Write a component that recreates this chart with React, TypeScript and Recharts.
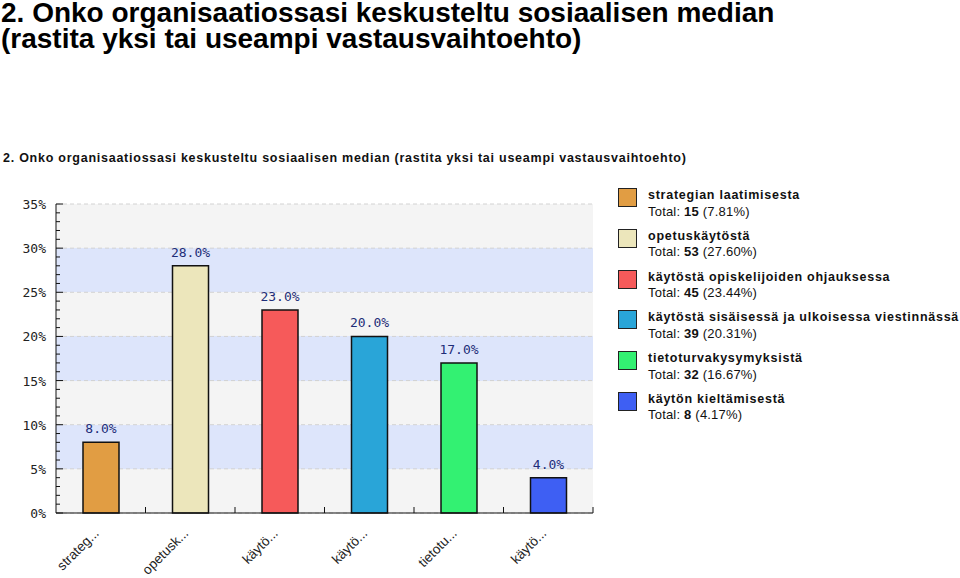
import {
  BarChart,
  Bar,
  XAxis,
  YAxis,
  CartesianGrid,
  LabelList,
  Cell,
} from 'recharts';

// Survey question 2 - answers as share of respondents
const categories = [
  'strategian laatimisesta',
  'opetuskäytöstä',
  'käytöstä opiskelijoiden ohjauksessa',
  'käytöstä sisäisessä ja ulkoisessa viestinnässä',
  'tietoturvakysymyksistä',
  'käytön kieltämisestä',
];
const shortLabels = ['strateg...', 'opetusk...', 'käytö...', 'käytö...', 'tietotu...', 'käytö...'];
const percentValues = [8.0, 28.0, 23.0, 20.0, 17.0, 4.0];
const totals = [15, 53, 45, 39, 32, 8];
const totalShares = ['7.81', '27.60', '23.44', '20.31', '16.67', '4.17'];
const barColors = ['#e19d43', '#ece6bb', '#f65a5a', '#29a5d8', '#33f172', '#3e5ff3'];
const yTicks = [0, 5, 10, 15, 20, 25, 30, 35];
const Y_MAX = 35;

const TITLE =
  '2. Onko organisaatiossasi keskusteltu sosiaalisen median (rastita yksi tai useampi vastausvaihtoehto)';

// plot box in page pixels
const PLOT_LEFT = 56;
const PLOT_RIGHT = 593;
const PLOT_TOP = 204;
const PLOT_BOTTOM = 513;
const BAND = (PLOT_RIGHT - PLOT_LEFT) / categories.length;

const data = categories.map((name, i) => ({
  name,
  value: percentValues[i],
}));

// 1% minor ticks on the value axis
const minorTicks = Array.from({ length: Y_MAX + 1 }, (_, i) => i);

const monoFont = '"DejaVu Sans Mono", monospace';
const sansFont = '"Liberation Sans", Arial, sans-serif';

// grid lines at the labelled ticks, mapped with the axis scale when available
function gridRows({ yAxis, offset }: any) {
  return yTicks.map((v) =>
    typeof yAxis?.scale === 'function'
      ? yAxis.scale(v)
      : offset.top + offset.height * (1 - v / Y_MAX),
  );
}

function YTick({ x, y, payload }: any) {
  const major = payload.value % 5 === 0;
  return (
    <g>
      <line x1={x} x2={x + (major ? 7 : 4)} y1={y} y2={y} stroke="#111" strokeWidth={1} />
      {major && (
        <text x={x - 10} y={y} dy={5} textAnchor="end" fontFamily={monoFont} fontSize={13} fill="#222">
          {payload.value}%
        </text>
      )}
    </g>
  );
}

function XTick({ x, y, index }: any) {
  const label = shortLabels[index];
  const ax = x - 1;
  const ay = y + 21;
  return (
    <g>
      <line x1={x + BAND / 2} x2={x + BAND / 2} y1={y} y2={y - 6} stroke="#111" strokeWidth={1} />
      <text
        x={ax}
        y={ay}
        textAnchor="end"
        fontFamily={sansFont}
        fontSize={13.5}
        fill="#222"
        transform={`rotate(-45, ${ax}, ${ay})`}
      >
        {label}
      </text>
    </g>
  );
}

function LegendBox() {
  return (
    <div style={{ fontFamily: sansFont, color: '#111' }}>
      {categories.map((name, i) => (
        <div key={name} style={{ position: 'relative', height: 40.8 }}>
          <div
            style={{
              position: 'absolute',
              left: 0,
              top: 0,
              width: 17,
              height: 17,
              background: barColors[i],
              border: '1px solid #222',
            }}
          />
          <div style={{ position: 'absolute', left: 30, top: 0, whiteSpace: 'nowrap', lineHeight: '15.5px' }}>
            <div style={{ fontWeight: 'bold', fontSize: 12.5, letterSpacing: 0.75 }}>{name}</div>
            <div style={{ fontSize: 13, letterSpacing: 0.2 }}>
              Total: <b>{totals[i]}</b> ({totalShares[i]}%)
            </div>
          </div>
        </div>
      ))}
    </div>
  );
}

const headingStyle = {
  position: 'absolute' as const,
  left: 1,
  fontFamily: sansFont,
  fontWeight: 'bold' as const,
  fontSize: 28,
  lineHeight: '25px',
  color: '#000',
  whiteSpace: 'nowrap' as const,
};

export default function App() {
  return (
    <div style={{ position: 'absolute', left: 0, top: 0, width: 960, height: 578, background: '#fff', overflow: 'hidden' }}>
      {/* page heading */}
      <div style={{ ...headingStyle, top: 0 }}>2. Onko organisaatiossasi keskusteltu sosiaalisen median</div>
      <div style={{ ...headingStyle, top: 26 }}>(rastita yksi tai useampi vastausvaihtoehto)</div>

      {/* chart heading */}
      <div
        style={{
          position: 'absolute',
          left: 3,
          top: 151,
          fontFamily: sansFont,
          fontWeight: 'bold',
          fontSize: 12.5,
          letterSpacing: 0.75,
          color: '#111',
          whiteSpace: 'nowrap',
        }}
      >
        {TITLE}
      </div>

      <div style={{ position: 'absolute', left: 0, top: 0 }}>
        <BarChart
          width={960}
          height={578}
          data={data}
          margin={{ top: PLOT_TOP, right: 960 - PLOT_RIGHT, bottom: 5, left: 10 }}
        >
          <CartesianGrid
            vertical={false}
            stroke="#d2d2d2"
            strokeDasharray="4 3"
            horizontalFill={['#f4f4f4', '#dde5fb']}
            fillOpacity={1}
            horizontalCoordinatesGenerator={gridRows}
          />
          <XAxis
            dataKey="name"
            height={578 - PLOT_BOTTOM - 5}
            axisLine={{ stroke: '#111' }}
            tickLine={false}
            tickSize={0}
            tickMargin={0}
            interval={0}
            tick={<XTick />}
          />
          <YAxis
            width={PLOT_LEFT - 10}
            domain={[0, Y_MAX]}
            ticks={minorTicks}
            interval={0}
            axisLine={{ stroke: '#111' }}
            tickLine={false}
            tickSize={0}
            tickMargin={0}
            tick={<YTick />}
          />
          <Bar dataKey="value" barSize={36} stroke="#111" strokeWidth={1.5} isAnimationActive={false}>
            {data.map((d, i) => (
              <Cell key={d.name} fill={barColors[i]} />
            ))}
            <LabelList
              dataKey="value"
              position="top"
              offset={9}
              formatter={(v: any) => `${Number(v).toFixed(1)}%`}
              fill="#1e2d78"
              fontFamily={monoFont}
              fontSize={13}
            />
          </Bar>
        </BarChart>
      </div>

      {/* legend */}
      <div style={{ position: 'absolute', left: 618, top: 188, width: 342 }}>
        <LegendBox />
      </div>
    </div>
  );
}
